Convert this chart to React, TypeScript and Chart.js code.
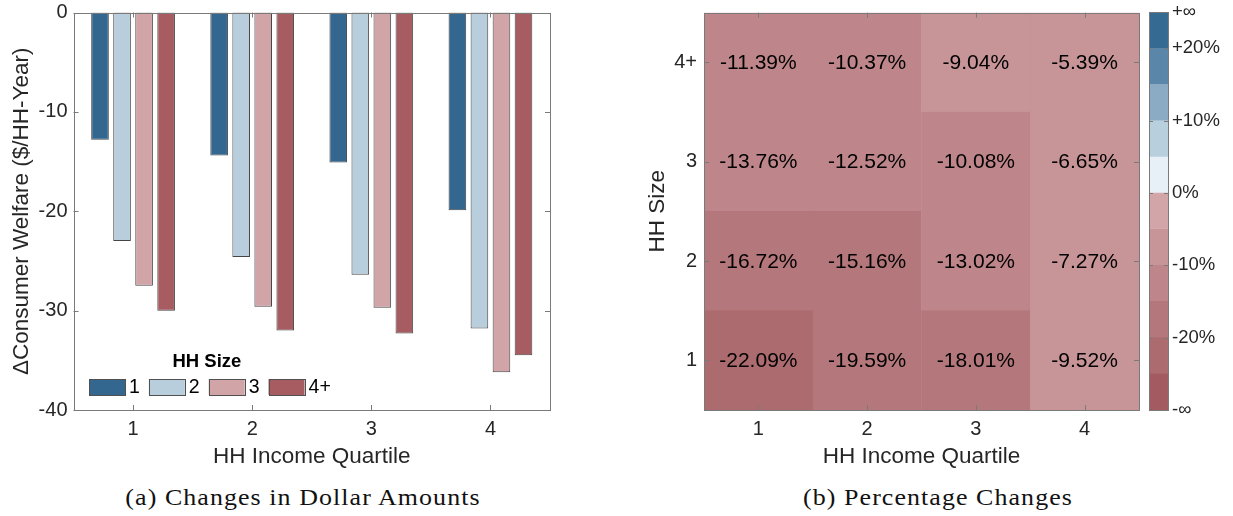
import React, { useEffect, useRef } from 'react';
import { Chart, registerables } from 'chart.js';

Chart.register(...registerables);

// ---------------- data ----------------
const QUARTILES = ['1', '2', '3', '4'];
const HH_SIZES = ['1', '2', '3', '4+'];

// Panel (a): change in consumer welfare ($/HH-Year), by income quartile
const WELFARE_SIZE_1 = [-12.8, -14.4, -15.1, -19.9];
const WELFARE_SIZE_2 = [-23.0, -24.6, -26.4, -31.8];
const WELFARE_SIZE_3 = [-27.5, -29.6, -29.7, -36.2];
const WELFARE_SIZE_4 = [-30.0, -32.0, -32.3, -34.5];
const SIZE_COLORS = ['#33678f', '#b8cedd', '#d1a4a8', '#a75c62'];

// Panel (b): percentage changes, rows = HH size, columns = income quartile
const PCT_SIZE_1 = [-22.09, -19.59, -18.01, -9.52];
const PCT_SIZE_2 = [-16.72, -15.16, -13.02, -7.27];
const PCT_SIZE_3 = [-13.76, -12.52, -10.08, -6.65];
const PCT_SIZE_4 = [-11.39, -10.37, -9.04, -5.39];

// colour scale: bin edges (%) and 11 bin colours from lowest to highest
const BIN_EDGES = [-25, -20, -15, -10, -5, 0, 5, 10, 15, 20];
const BIN_COLORS = [
  '#a35a60', '#ac6b6f', '#b4777b', '#be868a', '#c79498', '#d2a5a9',
  '#e6f0f6', '#b8cfdd', '#8aabc3', '#5a86a9', '#356a92',
];
const CBAR_TICK_EDGES = [-20, -10, 0, 10, 20];
const CBAR_TICK_LABELS = ['-∞', '-20%', '-10%', '0%', '+10%', '+20%', '+∞'];

// ---------------- helpers ----------------
const SANS = '"Liberation Sans", Arial, Helvetica, sans-serif';
const SERIF = '"Liberation Serif", "Times New Roman", serif';
const AXIS_COLOR = '#7a7a7a';
const TEXT_COLOR = '#262626';
const TICK_SIZE = 20;
const TITLE_SIZE = 22.5;

function binColor(v: number): string {
  let i = 0;
  while (i < BIN_EDGES.length && v >= BIN_EDGES[i]) i++;
  return BIN_COLORS[i];
}

function framePlugin(tickLen: number) {
  return {
    id: 'frame',
    afterDatasetsDraw(chart: any) {
      const { ctx, chartArea: a, scales } = chart;
      const x = scales.x;
      const y = scales.y;
      ctx.save();
      ctx.strokeStyle = AXIS_COLOR;
      ctx.lineWidth = 1;
      ctx.beginPath();
      x.ticks.forEach((_t: any, i: number) => {
        const px = Math.round(x.getPixelForTick(i)) + 0.5;
        ctx.moveTo(px, a.bottom);
        ctx.lineTo(px, a.bottom - tickLen);
        ctx.moveTo(px, a.top);
        ctx.lineTo(px, a.top + tickLen);
      });
      y.ticks.forEach((_t: any, i: number) => {
        const py = Math.round(y.getPixelForTick(i)) + 0.5;
        ctx.moveTo(a.left, py);
        ctx.lineTo(a.left + tickLen, py);
        ctx.moveTo(a.right, py);
        ctx.lineTo(a.right - tickLen, py);
      });
      ctx.stroke();
      ctx.strokeRect(
        Math.round(a.left) + 0.5,
        Math.round(a.top) + 0.5,
        Math.round(a.right) - Math.round(a.left),
        Math.round(a.bottom) - Math.round(a.top)
      );
      ctx.restore();
    },
  };
}

const legendPlugin = {
  id: 'hhLegend',
  afterDraw(chart: any) {
    const { ctx, chartArea: a } = chart;
    const items = chart.data.datasets.map((d: any) => ({ label: d.label, color: d.backgroundColor }));
    const boxW = 36;
    const boxH = 16;
    const gapText = 4;
    const gapItem = 9;
    ctx.save();
    ctx.font = `19.5px ${SANS}`;
    const widths = items.map((it: any) => boxW + gapText + ctx.measureText(it.label).width);
    const total = widths.reduce((s: number, w: number) => s + w, 0) + gapItem * (items.length - 1);
    const startX = a.left + 15.5;
    const boxTop = a.bottom - 31;
    let x = startX;
    ctx.textBaseline = 'middle';
    ctx.textAlign = 'left';
    items.forEach((it: any, i: number) => {
      ctx.fillStyle = it.color;
      ctx.fillRect(x, boxTop, boxW, boxH);
      ctx.strokeStyle = '#505050';
      ctx.lineWidth = 1;
      ctx.strokeRect(Math.round(x) + 0.5, Math.round(boxTop) + 0.5, boxW, boxH);
      ctx.fillStyle = '#000';
      ctx.fillText(it.label, x + boxW + gapText, boxTop + boxH / 2 + 1);
      x += widths[i] + gapItem;
    });
    ctx.font = `bold 18.5px ${SANS}`;
    ctx.textAlign = 'center';
    ctx.fillText(chart.options.plugins.hhLegend.title, startX + total / 2 - 3, boxTop - 17);
    ctx.restore();
  },
};

const cellLabelPlugin = {
  id: 'cellLabels',
  afterDatasetsDraw(chart: any) {
    const { ctx } = chart;
    ctx.save();
    ctx.font = `21px ${SANS}`;
    ctx.fillStyle = '#000';
    ctx.textAlign = 'center';
    ctx.textBaseline = 'middle';
    chart.data.datasets.forEach((ds: any, di: number) => {
      const meta = chart.getDatasetMeta(di);
      meta.data.forEach((el: any, i: number) => {
        const { x, y, base } = el.getProps(['x', 'y', 'base'], true);
        ctx.fillText(ds.values[i].toFixed(2) + '%', x, (y + base) / 2 + 1);
      });
    });
    ctx.restore();
  },
};

const cbarFramePlugin = {
  id: 'cbarFrame',
  afterDatasetsDraw(chart: any) {
    const { ctx, chartArea: a, scales } = chart;
    const y = scales.y;
    ctx.save();
    ctx.strokeStyle = AXIS_COLOR;
    ctx.lineWidth = 1;
    ctx.beginPath();
    y.ticks.forEach((_t: any, i: number) => {
      if (i === 0 || i === y.ticks.length - 1) return;
      const py = Math.round(y.getPixelForTick(i)) + 0.5;
      ctx.moveTo(a.left, py);
      ctx.lineTo(a.left + 4, py);
      ctx.moveTo(a.right, py);
      ctx.lineTo(a.right - 4, py);
    });
    ctx.stroke();
    ctx.strokeRect(
      Math.round(a.left) + 0.5,
      Math.round(a.top) + 0.5,
      Math.round(a.right) - Math.round(a.left),
      Math.round(a.bottom) - Math.round(a.top)
    );
    ctx.restore();
  },
};

const noPad = (s: any) => {
  s.paddingTop = 0;
  s.paddingBottom = 0;
};

// ---------------- charts ----------------
function BarPanel() {
  const ref = useRef<HTMLCanvasElement>(null);
  useEffect(() => {
    const series = [WELFARE_SIZE_1, WELFARE_SIZE_2, WELFARE_SIZE_3, WELFARE_SIZE_4];
    const chart = new Chart(ref.current as HTMLCanvasElement, {
      type: 'bar',
      data: {
        labels: QUARTILES,
        datasets: HH_SIZES.map((s, i) => ({
          label: s,
          data: series[i],
          backgroundColor: SIZE_COLORS[i],
          borderColor: '#454545',
          borderWidth: 1,
          borderSkipped: false,
          categoryPercentage: 0.74,
          barPercentage: 0.8,
        })),
      },
      options: {
        responsive: false,
        animation: false,
        layout: { padding: { top: 12.5, right: 15, bottom: 0, left: 0 } },
        plugins: {
          legend: { display: false },
          tooltip: { enabled: false },
          hhLegend: { title: 'HH Size' },
        } as any,
        scales: {
          x: {
            grid: { display: false, drawTicks: false },
            border: { display: false },
            ticks: { color: TEXT_COLOR, font: { family: SANS, size: TICK_SIZE }, padding: 7 },
            title: {
              display: true,
              text: 'HH Income Quartile',
              color: TEXT_COLOR,
              font: { family: SANS, size: TITLE_SIZE },
              padding: { top: 2, bottom: 0 },
            },
            afterFit: (s: any) => { s.height = 60; },
          },
          y: {
            min: -40,
            max: 0,
            grid: { display: false, drawTicks: false },
            border: { display: false },
            ticks: { stepSize: 10, color: TEXT_COLOR, font: { family: SANS, size: TICK_SIZE }, padding: 6 },
            title: {
              display: true,
              text: 'ΔConsumer Welfare ($/HH-Year)',
              color: TEXT_COLOR,
              font: { family: SANS, size: TITLE_SIZE },
              padding: { top: 8, bottom: 0 },
            },
            afterFit: (s: any) => { s.width = 73.5; noPad(s); },
          },
        },
      },
      plugins: [framePlugin(5), legendPlugin],
    });
    return () => chart.destroy();
  }, []);
  return <canvas ref={ref} width={565} height={470} style={{ position: 'absolute', left: 0, top: 0 }} />;
}

function HeatPanel() {
  const ref = useRef<HTMLCanvasElement>(null);
  useEffect(() => {
    const rows = [PCT_SIZE_1, PCT_SIZE_2, PCT_SIZE_3, PCT_SIZE_4];
    const chart = new Chart(ref.current as HTMLCanvasElement, {
      type: 'bar',
      data: {
        labels: QUARTILES,
        datasets: HH_SIZES.map((s, r) => ({
          label: s,
          data: rows[r].map(() => [r + 0.5, r + 1.5]),
          values: rows[r],
          backgroundColor: rows[r].map(binColor),
          borderColor: rows[r].map(binColor),
          borderWidth: 0.6,
          borderSkipped: false,
          grouped: false,
          categoryPercentage: 1,
          barPercentage: 1,
        })) as any,
      },
      options: {
        responsive: false,
        animation: false,
        layout: { padding: { top: 12.7, right: 11, bottom: 0, left: 0 } },
        plugins: { legend: { display: false }, tooltip: { enabled: false } },
        scales: {
          x: {
            grid: { display: false, drawTicks: false },
            border: { display: false },
            ticks: { color: TEXT_COLOR, font: { family: SANS, size: TICK_SIZE }, padding: 7 },
            title: {
              display: true,
              text: 'HH Income Quartile',
              color: TEXT_COLOR,
              font: { family: SANS, size: TITLE_SIZE },
              padding: { top: 2, bottom: 0 },
            },
            afterFit: (s: any) => { s.height = 60; },
          },
          y: {
            min: 0.5,
            max: 4.5,
            grid: { display: false, drawTicks: false },
            border: { display: false },
            afterBuildTicks: (s: any) => { s.ticks = HH_SIZES.map((_l, i) => ({ value: i + 1 })); },
            ticks: {
              color: TEXT_COLOR,
              font: { family: SANS, size: TICK_SIZE },
              padding: 7,
              callback: (_v: any, i: number) => HH_SIZES[i],
            },
            title: {
              display: true,
              text: 'HH Size',
              color: TEXT_COLOR,
              font: { family: SANS, size: TITLE_SIZE },
              padding: { top: 8, bottom: 0 },
            },
            afterFit: (s: any) => { s.width = 68; noPad(s); },
          },
        },
      },
      plugins: [cellLabelPlugin, framePlugin(5)],
    });
    return () => chart.destroy();
  }, []);
  return <canvas ref={ref} width={514} height={470} style={{ position: 'absolute', left: 636, top: 0 }} />;
}

function ColorBar() {
  const ref = useRef<HTMLCanvasElement>(null);
  useEffect(() => {
    const tickPos = [0, ...CBAR_TICK_EDGES.map((e) => BIN_EDGES.indexOf(e) + 1), BIN_COLORS.length];
    const chart = new Chart(ref.current as HTMLCanvasElement, {
      type: 'bar',
      data: {
        labels: [''],
        datasets: BIN_COLORS.map((c, i) => ({
          label: String(i),
          data: [[i, i + 1]],
          backgroundColor: c,
          borderColor: c,
          borderWidth: 0.6,
          borderSkipped: false,
          grouped: false,
          categoryPercentage: 1,
          barPercentage: 1,
        })) as any,
      },
      options: {
        responsive: false,
        animation: false,
        layout: { padding: { top: 12, right: 0, bottom: 60, left: 9 } },
        plugins: { legend: { display: false }, tooltip: { enabled: false } },
        scales: {
          x: { display: false },
          y: {
            position: 'right',
            min: 0,
            max: BIN_COLORS.length,
            grid: { display: false, drawTicks: false },
            border: { display: false },
            afterBuildTicks: (s: any) => { s.ticks = tickPos.map((v) => ({ value: v })); },
            ticks: {
              color: TEXT_COLOR,
              font: { family: SANS, size: 18.5 },
              padding: 4,
              callback: (_v: any, i: number) => CBAR_TICK_LABELS[i],
            },
            afterFit: (s: any) => { s.width = 65; noPad(s); },
          },
        },
      },
      plugins: [cbarFramePlugin],
    });
    return () => chart.destroy();
  }, []);
  return <canvas ref={ref} width={93} height={470} style={{ position: 'absolute', left: 1140, top: 0 }} />;
}

export default function App() {
  const caption: React.CSSProperties = {
    position: 'absolute',
    top: 485,
    fontFamily: SERIF,
    fontSize: 24,
    lineHeight: '24px',
    letterSpacing: '1px',
    color: '#111',
    textAlign: 'center',
    whiteSpace: 'nowrap',
    transform: 'scaleX(1.08)',
  };
  return (
    <div style={{ position: 'fixed', left: 0, top: 0, width: 1233, height: 516, background: '#fff', overflow: 'hidden' }}>
      <BarPanel />
      <HeatPanel />
      <ColorBar />
      <div style={{ ...caption, left: 103, width: 400 }}>(a) Changes in Dollar Amounts</div>
      <div style={{ ...caption, left: 738, width: 400 }}>(b) Percentage Changes</div>
    </div>
  );
}
